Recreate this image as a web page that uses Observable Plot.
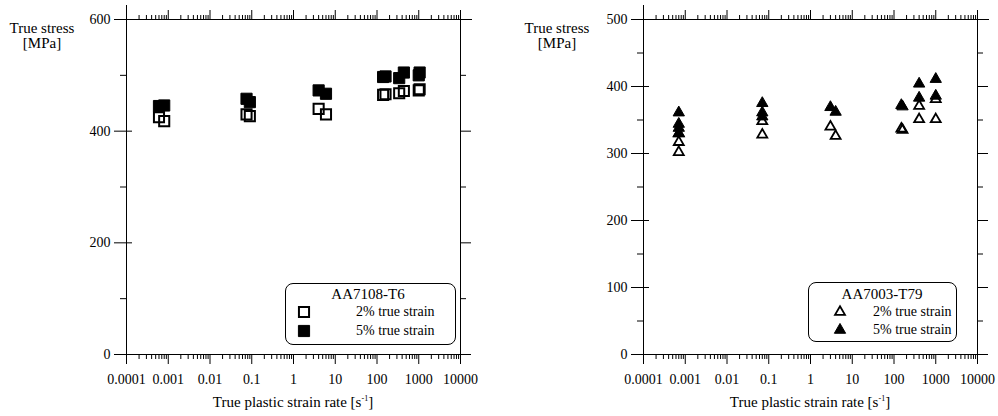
<!DOCTYPE html>
<html><head><meta charset="utf-8">
<script src="https://cdn.jsdelivr.net/npm/d3@7"></script>
<script src="https://cdn.jsdelivr.net/npm/@observablehq/plot@0.6"></script>
<style>
body{margin:0;background:#fff;}
#wrap{position:relative;width:998px;height:416px;font-family:"Liberation Serif","Times New Roman",serif;color:#000;overflow:hidden;}
#wrap svg.plot{position:absolute;top:0;}
.ylab{position:absolute;text-align:center;font-size:15px;line-height:15px;width:80px;}
.xlab{position:absolute;font-size:15px;line-height:15px;white-space:nowrap;transform:translateX(-50%);}
.xlab sup{font-size:8px;vertical-align:6px;line-height:0;}
.legend{position:absolute;border:1px solid #000;border-radius:8px;background:#fff;box-sizing:border-box;}
.lt{position:absolute;white-space:nowrap;line-height:15px;}
</style></head><body><div id="wrap"></div>
<script>
// ---------- data ----------
const xTickLabels = ["0.0001","0.001","0.01","0.1","1","10","100","1000","10000"];
const xMajor = xTickLabels.map(Number);
const xMinor = xMajor.slice(0,-1).flatMap(d => [2,3,4,5,6,7,8,9].map(k => k*d));

// AA7108-T6 (left)
const rate2_7108   = [0.0006, 0.0008, 0.075, 0.09, 4, 6, 140, 160, 340, 440, 1000, 1050];
const stress2_7108 = [425, 418, 430, 427, 440, 430, 465, 466, 468, 472, 473, 475];
const rate5_7108   = [0.0006, 0.0008, 0.075, 0.09, 4, 6, 140, 160, 340, 440, 1000, 1050];
const stress5_7108 = [445, 446, 458, 452, 473, 467, 497, 498, 495, 505, 500, 505];
const yTicks_7108 = [0, 200, 400, 600];
const yMinor_7108 = [100, 300, 500];

// AA7003-T79 (right)
const rate2_7003   = [0.0007, 0.0007, 0.0007, 0.07, 0.07, 3, 4, 150, 160, 400, 400, 1000, 1000];
const stress2_7003 = [330, 317, 302, 348, 328, 340, 326, 337, 335, 371, 351, 381, 351];
const rate5_7003   = [0.0007, 0.0007, 0.0007, 0.0007, 0.07, 0.07, 0.07, 3, 4, 150, 160, 400, 400, 1000, 1000];
const stress5_7003 = [361, 344, 338, 330, 375, 361, 355, 369, 362, 372, 370, 404, 383, 411, 386];
const yTicks_7003 = [0, 100, 200, 300, 400, 500];
const yMinor_7003 = [50, 150, 250, 350, 450];

const toRows = (xs, ys) => xs.map((x, i) => ({x, y: ys[i]}));
const fmtX = d => xTickLabels[xMajor.findIndex(v => Math.abs(Math.log10(v / d)) < 1e-6)];
const FONT = '"Liberation Serif","Times New Roman",serif';

function panel({s2, s5, yMax, yTicks, yMinor, marginLeft, marginRight, symbol, r2, r5, sw2}) {
  const pxPerUnit = (416 - 19 - 62) / yMax;
  const noTxt = () => "";
  return Plot.plot({
    width: 499, height: 416,
    marginTop: 19, marginBottom: 62, marginLeft, marginRight,
    x: {type: "log", domain: [1e-4, 1e4], axis: null},
    y: {domain: [0, yMax], axis: null},
    style: {fontFamily: FONT, fontSize: "14px", color: "#000", background: "none", overflow: "visible"},
    marks: [
      Plot.frame({stroke: "#000", strokeWidth: 1}),
      Plot.ruleY([yMax], {x1: 1e4, x2: 1e4 * Math.pow(10, 12 / 41.75), stroke: "#000"}),
      Plot.ruleX([1e-4], {y1: yMax, y2: yMax + 14 / pxPerUnit, stroke: "#000"}),
      Plot.axisX({anchor: "bottom", ticks: xMajor, tickSize: 10, tickFormat: noTxt, label: null}),
      Plot.axisX({anchor: "bottom", ticks: xMinor, tickSize: 5, tickFormat: noTxt, label: null}),
      Plot.axisX({anchor: "top", ticks: xMajor, tickSize: 10, tickFormat: noTxt, label: null}),
      Plot.axisX({anchor: "top", ticks: xMinor, tickSize: 5, tickFormat: noTxt, label: null}),
      Plot.axisX({anchor: "bottom", ticks: xMajor, tickSize: 0, tickPadding: 20, tickFormat: fmtX, label: null, fontSize: 14}),
      Plot.axisY({anchor: "left", ticks: yTicks, tickSize: 18, dx: 6, tickFormat: noTxt, label: null}),
      Plot.axisY({anchor: "left", ticks: yMinor, tickSize: 6, tickFormat: noTxt, label: null}),
      Plot.axisY({anchor: "right", ticks: yTicks, tickSize: 10, tickFormat: noTxt, label: null}),
      Plot.axisY({anchor: "right", ticks: yMinor, tickSize: 5, tickFormat: noTxt, label: null}),
      Plot.axisY({anchor: "left", ticks: yTicks, tickSize: 0, tickPadding: 16, tickFormat: d => String(d), label: null, fontSize: 14}),
      Plot.dot(s2, {x: "x", y: "y", symbol, r: r2, fill: "none", stroke: "#000", strokeWidth: sw2}),
      Plot.dot(s5, {x: "x", y: "y", symbol, r: r5, fill: "#000", stroke: "#000", strokeWidth: 1})
    ]
  });
}

const wrap = document.getElementById("wrap");

const left = panel({
  s2: toRows(rate2_7108, stress2_7108), s5: toRows(rate5_7108, stress5_7108),
  yMax: 600, yTicks: yTicks_7108, yMinor: yMinor_7108,
  marginLeft: 126, marginRight: 39, symbol: "square", r2: 5.7, r5: 6.3, sw2: 2
});
left.classList.add("plot"); left.style.left = "0px";
wrap.appendChild(left);

const right = panel({
  s2: toRows(rate2_7003, stress2_7003), s5: toRows(rate5_7003, stress5_7003),
  yMax: 500, yTicks: yTicks_7003, yMinor: yMinor_7003,
  marginLeft: 144, marginRight: 21, symbol: "triangle", r2: 3.7, r5: 4.2, sw2: 1.8
});
right.classList.add("plot"); right.style.left = "499px";
wrap.appendChild(right);

// axis titles
function addHTML(cls, html, x, y) {
  const d = document.createElement("div");
  d.className = cls; d.innerHTML = html;
  d.style.left = x + "px"; d.style.top = y + "px";
  wrap.appendChild(d); return d;
}
addHTML("ylab", "True stress<br>[MPa]", 2, 21);
addHTML("ylab", "True stress<br>[MPa]", 517, 21);
addHTML("xlab", "True plastic strain rate [s<sup>-1</sup>]", 293, 395);
addHTML("xlab", "True plastic strain rate [s<sup>-1</sup>]", 810, 395);

// legends
function legend({x, y, w, h, title, titleCx, mx, tx, rowY, symbol, r2, r5, sw2}) {
  const box = document.createElement("div");
  box.className = "legend";
  Object.assign(box.style, {left: x + "px", top: y + "px", width: w + "px", height: h + "px"});
  wrap.appendChild(box);
  const t = addHTML("lt", title, titleCx, rowY[0] - 8);
  t.style.fontSize = "15px"; t.style.transform = "translateX(-50%)";
  const labels = ["2% true strain", "5% true strain"];
  [0, 1].forEach(i => {
    const cy = rowY[i + 1];
    const lab = addHTML("lt", labels[i], tx, cy - 8);
    lab.style.fontSize = "14px";
    const svg = d3.create("svg").attr("width", 20).attr("height", 20)
      .style("position", "absolute").style("left", (mx - 10) + "px").style("top", (cy - 10) + "px").style("overflow", "visible");
    const r = i === 0 ? r2 : r5;
    svg.append("path")
      .attr("transform", "translate(10,10)")
      .attr("d", d3.symbol(symbol, Math.PI * r * r)())
      .attr("fill", i === 0 ? "none" : "#000")
      .attr("stroke", "#000")
      .attr("stroke-width", i === 0 ? sw2 : 1);
    wrap.appendChild(svg.node());
  });
}
legend({x: 285, y: 283, w: 171, h: 62, title: "AA7108-T6", titleCx: 368, mx: 304, tx: 356,
  rowY: [295, 312, 331], symbol: d3.symbolSquare, r2: 5.7, r5: 6.3, sw2: 2});
legend({x: 808, y: 282, w: 149, h: 60, title: "AA7003-T79", titleCx: 882, mx: 840, tx: 873,
  rowY: [295, 312, 330], symbol: d3.symbolTriangle, r2: 3.7, r5: 4.2, sw2: 1.8});
</script>
</body></html>
